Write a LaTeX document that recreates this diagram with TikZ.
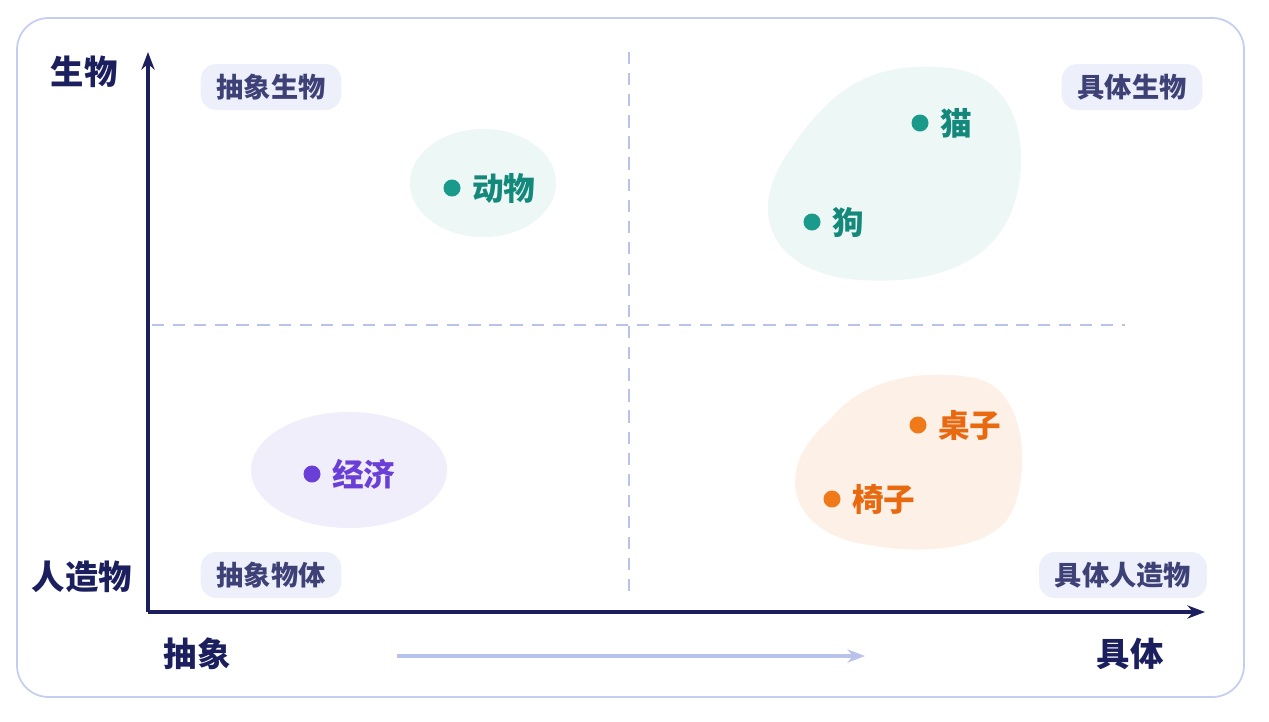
\documentclass[tikz,border=0pt]{standalone}
\usepackage{fontspec}
\setmainfont{Noto Sans CJK SC}
\usetikzlibrary{arrows.meta}
\definecolor{navy}{HTML}{1B1F5E}
\definecolor{dashc}{HTML}{B8C2EC}
\definecolor{tagf}{HTML}{EDEFFA}
\definecolor{teal}{HTML}{1A9A8A}
\definecolor{tealt}{HTML}{14887A}
\definecolor{purp}{HTML}{6A3FD8}
\definecolor{oran}{HTML}{F07A1A}
\definecolor{orant}{HTML}{E8690F}
\tikzset{
 tag/.style={fill=tagf,rounded corners=9pt,minimum height=46*0.02cm,inner xsep=9pt,font=\fontsize{15.5}{15.5}\selectfont\bfseries,text=navy!85},
 axl/.style={font=\fontsize{19}{19}\selectfont\bfseries,text=navy},
 dot/.style={circle,minimum size=17*0.02cm,inner sep=0pt},
 lab/.style={font=\fontsize{18}{18}\selectfont\bfseries,anchor=west},
}
\begin{document}
\begin{tikzpicture}[x=0.02cm,y=-0.02cm]
\useasboundingbox (0,0) rectangle (1269,721);
\fill[white] (0,0) rectangle (1269,721);
\draw[dashc!80,line width=1pt,rounded corners=18pt] (17,18) rectangle (1244,697);
% blobs
\fill[teal!8] (483,183) ellipse [x radius=73,y radius=54];
\fill[teal!8] (790,150) .. controls (830,90) and (870,60) .. (950,68) .. controls (1030,78) and (1030,170) .. (1010,215) .. controls (990,260) and (940,285) .. (860,280) .. controls (780,275) and (740,220) .. (790,150) -- cycle;
\fill[purp!9] (349,470) ellipse [x radius=98,y radius=58];
\fill[oran!11] (830,420) .. controls (860,380) and (920,368) .. (975,378) .. controls (1030,390) and (1030,480) .. (1010,515) .. controls (990,550) and (920,555) .. (870,545) .. controls (790,535) and (770,470) .. (830,420) -- cycle;
% dashed
\draw[dashc,line width=1pt,dash pattern=on 7pt off 5pt] (629,52) -- (629,595);
\draw[dashc,line width=1pt,dash pattern=on 7pt off 5pt] (152,325) -- (1125,325);
% axes
\coordinate (o) at (148,612);
\coordinate (yt) at (148,52);
\coordinate (xt) at (1205,612);
\draw[navy,line width=2pt,-{Stealth[length=10pt]}] (o) -- (yt);
\draw[navy,line width=2pt,-{Stealth[length=10pt]}] (o) -- (xt);
\coordinate (a1) at (397,656); \coordinate (a2) at (865,656);
\draw[dashc,line width=1.8pt,-{Stealth[length=10pt]}] (a1) -- (a2);
\node[axl] (ys) at (84,72) {生物};
\node[axl] (yb) at (82,577) {人造物};
\node[axl] (xl) at (197,654) {抽象};
\node[axl] (xr) at (1130,654) {具体};
% tags
\node[tag] (t1) at (271,87) {抽象生物};
\node[tag] (t2) at (1132,87) {具体生物};
\node[tag] (t3) at (271,575) {抽象物体};
\node[tag] (t4) at (1123,575) {具体人造物};
% points
\node[dot,fill=teal] (p1) at (452,188) {}; \node[lab,text=tealt] at (466,188) {动物};
\node[dot,fill=teal] (p2) at (920,123) {}; \node[lab,text=tealt] at (934,123) {猫};
\node[dot,fill=teal] (p3) at (812,222) {}; \node[lab,text=tealt] at (826,222) {狗};
\node[dot,fill=purp] (p4) at (312,474) {}; \node[lab,text=purp] at (326,474) {经济};
\node[dot,fill=oran] (p5) at (918,425) {}; \node[lab,text=orant] at (932,425) {桌子};
\node[dot,fill=oran] (p6) at (832,499) {}; \node[lab,text=orant] at (846,499) {椅子};
\end{tikzpicture}
\end{document}
